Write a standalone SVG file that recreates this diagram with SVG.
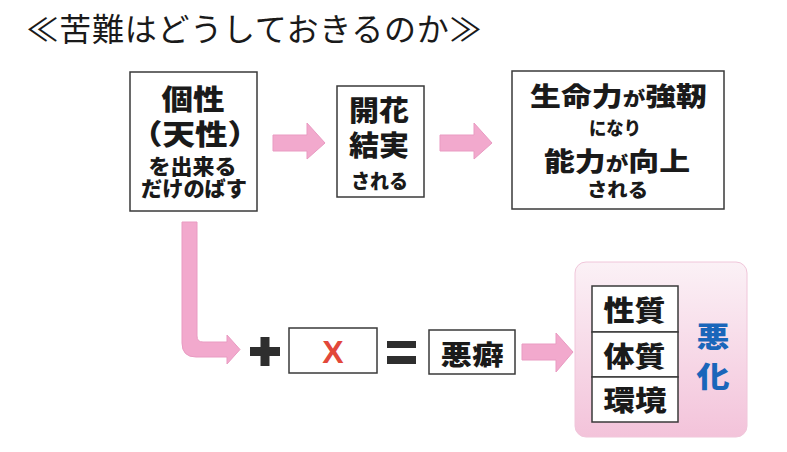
<svg xmlns="http://www.w3.org/2000/svg" width="787" height="452" viewBox="0 0 787 452">
<defs>
<linearGradient id="panelGrad" x1="0" y1="0" x2="0" y2="1">
<stop offset="0" stop-color="#fbf1f6"/>
<stop offset="1" stop-color="#f3c3da"/>
</linearGradient>
</defs>
<style>
.t{font-family:"Noto Sans CJK JP","Noto Sans CJK SC",sans-serif;fill:#1a1a1a;text-anchor:middle;}
.b{font-weight:900;}
.box{fill:#ffffff;stroke:#3a3a3a;stroke-width:1.5;}
.arrow{fill:#f2a9cd;stroke:#e99bc2;stroke-width:1;}
.blue{fill:#1a66ba;}
</style>
<rect width="787" height="452" fill="#ffffff"/>
<text x="254" y="41" class="t" style="font-size:32px" textLength="455">≪苦難はどうしておきるのか≫</text>

<g id="connectors">
<polygon class="arrow" points="273,135 307,135 307,123 325,143 307,159 307,151 273,151"/>
<polygon class="arrow" points="440,135 474,135 474,123 492,143 474,159 474,151 440,151"/>
<path class="arrow" d="M182,222 L197,222 L197,336 Q197,342 203,342 L227,342 L227,335 L240,349.5 L227,364 L227,357 L196,357 Q182,357 182,343 Z"/>
<polygon class="arrow" points="522,344 556,344 556,333 573,352 556,372 556,360 522,360"/>
</g>

<g id="node-kosei">
<rect class="box" x="130" y="72" width="127" height="139"/>
<text class="t b" x="193" y="110" style="font-size:28px" textLength="63" lengthAdjust="spacingAndGlyphs">個性</text>
<text class="t b" x="195" y="145" style="font-size:28px" textLength="130" lengthAdjust="spacingAndGlyphs">（天性）</text>
<text class="t b" x="192.5" y="174" style="font-size:21px" textLength="88" lengthAdjust="spacingAndGlyphs">を出来る</text>
<text class="t b" x="194" y="196" style="font-size:21px" textLength="106" lengthAdjust="spacingAndGlyphs">だけのばす</text>
</g>

<g id="node-kaika">
<rect class="box" x="337" y="86" width="87" height="111"/>
<text class="t b" x="379" y="121" style="font-size:28px" textLength="60" lengthAdjust="spacingAndGlyphs">開花</text>
<text class="t b" x="379" y="156" style="font-size:28px" textLength="60" lengthAdjust="spacingAndGlyphs">結実</text>
<text class="t b" x="379.5" y="189" style="font-size:20px" textLength="57" lengthAdjust="spacingAndGlyphs">される</text>
</g>

<g id="node-seimei">
<rect class="box" x="512" y="71" width="212" height="138"/>
<text class="t b" x="618.5" y="106" style="font-size:26px" textLength="177" lengthAdjust="spacingAndGlyphs">生命力<tspan style="font-size:19px">が</tspan>強靭</text>
<text class="t b" x="615" y="135" style="font-size:18px" textLength="52" lengthAdjust="spacingAndGlyphs">になり</text>
<text class="t b" x="617" y="170.5" style="font-size:26px" textLength="146" lengthAdjust="spacingAndGlyphs">能力<tspan style="font-size:19px">が</tspan>向上</text>
<text class="t b" x="617.5" y="197" style="font-size:19px" textLength="61" lengthAdjust="spacingAndGlyphs">される</text>
</g>

<g id="node-plus">
<rect x="260.5" y="337" width="9" height="29" fill="#2e2e2e"/>
<rect x="250" y="347" width="30" height="9" fill="#2e2e2e"/>
</g>

<g id="node-x">
<rect class="box" x="289" y="328" width="88" height="45"/>
<text class="t" x="333" y="363" style="font-size:32px;fill:#e2483a;font-weight:700;font-family:'Liberation Sans',sans-serif">X</text>
</g>

<g id="node-equals">
<rect x="387" y="341" width="29" height="7" fill="#2e2e2e"/>
<rect x="387" y="356" width="29" height="8" fill="#2e2e2e"/>
</g>

<g id="node-akuheki">
<rect class="box" x="429" y="330" width="86" height="44"/>
<text class="t b" x="472" y="365" style="font-size:27px" textLength="63" lengthAdjust="spacingAndGlyphs">悪癖</text>
</g>

<g id="node-panel">
<rect x="575" y="262" width="172" height="175" rx="11" fill="url(#panelGrad)" stroke="#f0c6da" stroke-width="1"/>
<rect class="box" x="592" y="286" width="86" height="46"/>
<rect class="box" x="592" y="332" width="86" height="45"/>
<rect class="box" x="592" y="377" width="86" height="45"/>
<text class="t b" x="634.5" y="321" style="font-size:28px" textLength="62" lengthAdjust="spacingAndGlyphs">性質</text>
<text class="t b" x="634.5" y="367" style="font-size:28px" textLength="62" lengthAdjust="spacingAndGlyphs">体質</text>
<text class="t b" x="635" y="411" style="font-size:28px" textLength="63" lengthAdjust="spacingAndGlyphs">環境</text>
<text class="t b blue" x="713" y="348" style="font-size:29px" textLength="33" lengthAdjust="spacingAndGlyphs">悪</text>
<text class="t b blue" x="713" y="388" style="font-size:29px" textLength="33" lengthAdjust="spacingAndGlyphs">化</text>
</g>
</svg>
